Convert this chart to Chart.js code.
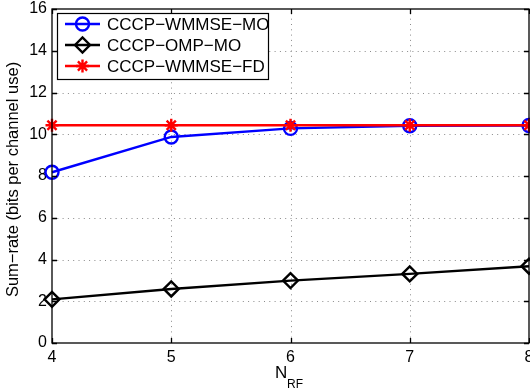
<!DOCTYPE html>
<html>
<head>
<meta charset="utf-8">
<script src="https://cdn.jsdelivr.net/npm/chart.js@4"></script>
<style>
  html, body { margin: 0; padding: 0; background: #fff; }
  #wrap { width: 530px; height: 391px; position: relative; }
</style>
</head>
<body>
<div id="wrap"><canvas id="c" width="530" height="391"></canvas></div>
<script>
// Number of RF chains
const nRF = [4, 5, 6, 7, 8];
// Sum-rate (bits per channel use) for each scheme
const wmmseMO = [8.18, 9.87, 10.28, 10.41, 10.42];
const ompMO = [2.09, 2.59, 2.99, 3.31, 3.68];
const wmmseFD = [10.43, 10.43, 10.43, 10.43, 10.43];
const seriesNames = ['CCCP\u2212WMMSE\u2212MO', 'CCCP\u2212OMP\u2212MO', 'CCCP\u2212WMMSE\u2212FD'];
const xTicks = [4, 5, 6, 7, 8];
const yTicks = [0, 2, 4, 6, 8, 10, 12, 14, 16];
const yTitle = 'Sum\u2212rate (bits per channel use)';

const FONT = 'Helvetica, "Liberation Sans", Arial, sans-serif';

const toPts = ys => nRF.map((x, i) => ({ x, y: ys[i] }));

const styles = [
  { color: '#0000ff', point: 'circle', radius: 6.5, order: 2 },
  { color: '#000000', point: 'rectRot', radius: 7.5, order: 1 },
  { color: '#ff0000', point: 'star', radius: 6.5, order: 0 }
];

function makeDataset(name, ys, st) {
  return {
    label: name,
    data: toPts(ys),
    order: st.order,
    borderColor: st.color,
    backgroundColor: 'rgba(0,0,0,0)',
    borderWidth: 2.4,
    pointStyle: st.point,
    pointRadius: st.radius,
    pointBorderWidth: 2.4,
    pointBorderColor: st.color,
    pointBackgroundColor: 'rgba(0,0,0,0)',
    tension: 0
  };
}

// Dotted grid under the data
const grid = {
  id: 'dottedGrid',
  beforeDatasetsDraw(chart) {
    const { ctx, chartArea: a, scales } = chart;
    ctx.save();
    ctx.strokeStyle = '#8a8a8a';
    ctx.lineWidth = 1;
    ctx.setLineDash([1, 4.3]);
    ctx.beginPath();
    xTicks.slice(1, -1).forEach(v => {
      const px = Math.round(scales.x.getPixelForValue(v)) + 0.5;
      ctx.moveTo(px, a.bottom); ctx.lineTo(px, a.top);
    });
    yTicks.slice(1, -1).forEach(v => {
      const py = Math.round(scales.y.getPixelForValue(v)) + 0.5;
      ctx.moveTo(a.left, py); ctx.lineTo(a.right, py);
    });
    ctx.stroke();
    ctx.restore();
  }
};

// Frame, inward ticks, titles and boxed legend
const decor = {
  id: 'decor',
  afterDraw(chart) {
    const { ctx, chartArea: a, scales } = chart;
    const xs = scales.x, ys = scales.y;
    ctx.save();
    ctx.strokeStyle = '#000';
    ctx.lineWidth = 1.3;
    ctx.strokeRect(a.left, a.top, a.right - a.left, a.bottom - a.top);
    ctx.beginPath();
    xTicks.forEach(v => {
      const px = Math.round(xs.getPixelForValue(v)) + 0.5;
      ctx.moveTo(px, a.bottom); ctx.lineTo(px, a.bottom - 5);
      ctx.moveTo(px, a.top); ctx.lineTo(px, a.top + 5);
    });
    yTicks.forEach(v => {
      const py = Math.round(ys.getPixelForValue(v)) + 0.5;
      ctx.moveTo(a.left, py); ctx.lineTo(a.left + 5, py);
      ctx.moveTo(a.right, py); ctx.lineTo(a.right - 5, py);
    });
    ctx.stroke();

    // y title
    ctx.fillStyle = '#000';
    ctx.font = '16.5px ' + FONT;
    ctx.textAlign = 'center';
    ctx.textBaseline = 'middle';
    ctx.save();
    ctx.translate(13, 179.5);
    ctx.rotate(-Math.PI / 2);
    ctx.fillText(yTitle, 0, 0);
    ctx.restore();

    // x title: N with RF subscript
    ctx.textAlign = 'left';
    ctx.textBaseline = 'alphabetic';
    ctx.font = '17px ' + FONT;
    ctx.fillText('N', 275, 378);
    ctx.font = '12px ' + FONT;
    ctx.fillText('RF', 287, 388);

    // legend box
    const lx = 57, ly = 13, lw = 211, lh = 66;
    ctx.fillStyle = '#fff';
    ctx.fillRect(lx, ly, lw, lh);
    ctx.lineWidth = 1.2;
    ctx.strokeStyle = '#000';
    ctx.strokeRect(lx + 0.5, ly + 0.5, lw, lh);
    styles.forEach((st, i) => {
      const ry = 24 + i * 21;
      ctx.strokeStyle = st.color;
      ctx.lineWidth = 2.4;
      ctx.beginPath();
      ctx.moveTo(65, ry); ctx.lineTo(100, ry);
      ctx.stroke();
      ctx.fillStyle = 'rgba(0,0,0,0)';
      Chart.helpers.drawPoint(ctx, {
        pointStyle: st.point, radius: st.radius, borderWidth: 2.4, rotation: 0
      }, 82.5, ry);
      ctx.fillStyle = '#000';
      ctx.font = '17px ' + FONT;
      ctx.textBaseline = 'middle';
      ctx.fillText(seriesNames[i], 107, ry + 1);
    });
    ctx.restore();
  }
};

new Chart(document.getElementById('c'), {
  type: 'line',
  data: {
    datasets: [
      makeDataset(seriesNames[0], wmmseMO, styles[0]),
      makeDataset(seriesNames[1], ompMO, styles[1]),
      makeDataset(seriesNames[2], wmmseFD, styles[2])
    ]
  },
  options: {
    responsive: false,
    animation: false,
    devicePixelRatio: 1,
    clip: false,
    layout: { autoPadding: false, padding: { top: 9, right: 1, left: 0, bottom: 0 } },
    plugins: { legend: { display: false }, tooltip: { enabled: false } },
    scales: {
      x: {
        type: 'linear', min: 4, max: 8,
        afterFit(s) { s.height = 48; s.paddingLeft = 0; s.paddingRight = 0; },
        afterBuildTicks(s) { s.ticks = xTicks.map(v => ({ value: v })); },
        grid: { display: false, drawTicks: false },
        border: { display: false },
        ticks: { color: '#000', font: { family: FONT, size: 16 }, padding: 5, maxRotation: 0, autoSkip: false }
      },
      y: {
        type: 'linear', min: 0, max: 16,
        afterFit(s) { s.width = 52; s.paddingTop = 0; s.paddingBottom = 0; },
        afterBuildTicks(s) { s.ticks = yTicks.map(v => ({ value: v })); },
        grid: { display: false, drawTicks: false },
        border: { display: false },
        ticks: { color: '#000', font: { family: FONT, size: 16 }, padding: 5 }
      }
    }
  },
  plugins: [grid, decor]
});
</script>
</body>
</html>
